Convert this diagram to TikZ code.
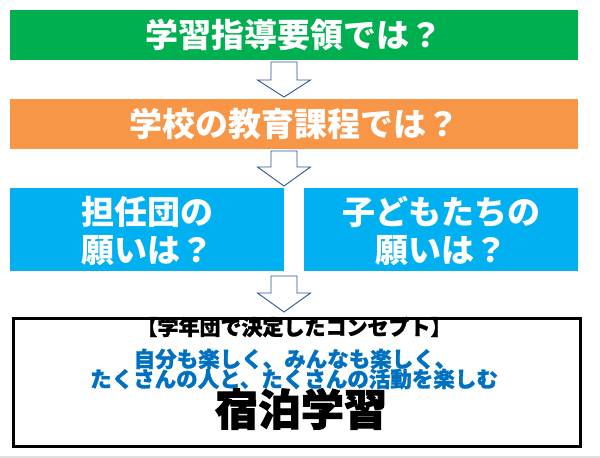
\documentclass[tikz,border=0pt]{standalone}
\usepackage{fontspec}
\setmainfont{Noto Sans CJK JP}
\newfontfamily\jp{Noto Sans CJK JP}
\newfontfamily\jpheavy{Noto Sans CJK JP}[BoldFeatures={FakeBold=1.2}]
\newfontfamily\jpblack{Noto Sans CJK JP}[BoldFeatures={FakeBold=2.2}]
\usetikzlibrary{calc}
\definecolor{cgreen}{HTML}{00B050}
\definecolor{corange}{HTML}{F79646}
\definecolor{cblue}{HTML}{00B0F0}
\definecolor{carrow}{HTML}{2F5597}
\definecolor{ctext}{HTML}{0070C0}
\tikzset{
  band/.style={inner sep=0pt, outer sep=0pt, text=white, font=\jp\bfseries\fontsize{33}{37}\selectfont},
  twoline/.style={band, align=center, font=\jp\bfseries\fontsize{33}{38}\selectfont},
  concept/.style={inner sep=0pt, text=ctext, font=\jpheavy\bfseries\fontsize{21.5}{24}\selectfont},
  blockarrow/.style={draw=carrow, fill=white, line width=0.9pt, line join=miter},
}
\newcommand\barrow[3]{%
  \draw[blockarrow] (271,#1) -- (297,#1) -- (297,#2) -- (310.5,#2) -- (284,#3) -- (257.5,#2) -- (271,#2) -- cycle;}
\begin{document}
\begin{tikzpicture}[x=1pt,y=-1pt]
\useasboundingbox (0,0) rectangle (600,458);
\fill[white] (0,0) rectangle (600,458);
\fill[black!12] (0,455.5) rectangle (600,458);
% boxes
\fill[cgreen] (10,10) rectangle (578,60);
\node[band] (g) at (294,35) {学習指導要領では？};
\fill[corange] (10,99) rectangle (578,149);
\node[band] (o) at (294,124) {学校の教育課程では？};
\fill[cblue] (10,188) rectangle (284,271);
\node[twoline] (l) at (147,231) {担任団の\\願いは？};
\fill[cblue] (304,188) rectangle (578,271);
\node[twoline] (r) at (441,231) {子どもたちの\\願いは？};
% arrows
\barrow{62}{80}{97}
\barrow{151}{167}{186}
\barrow{276}{293}{312}
% concept box
\draw[line width=3pt] (13,318) rectangle (580,446);
\node[concept, text=black, font=\jpheavy\bfseries\fontsize{21}{24}\selectfont] (c0) at (294,327) {【学年団で決定したコンセプト】};
\node[concept] (c1) at (295,359) {自分も楽しく、みんなも楽しく、};
\node[concept] (c2) at (294,379) {たくさんの人と、たくさんの活動を楽しむ};
\node[inner sep=0pt, font=\jpblack\bfseries\fontsize{43}{46}\selectfont] (c3) at (301,409) {宿泊学習};
\end{tikzpicture}
\end{document}
